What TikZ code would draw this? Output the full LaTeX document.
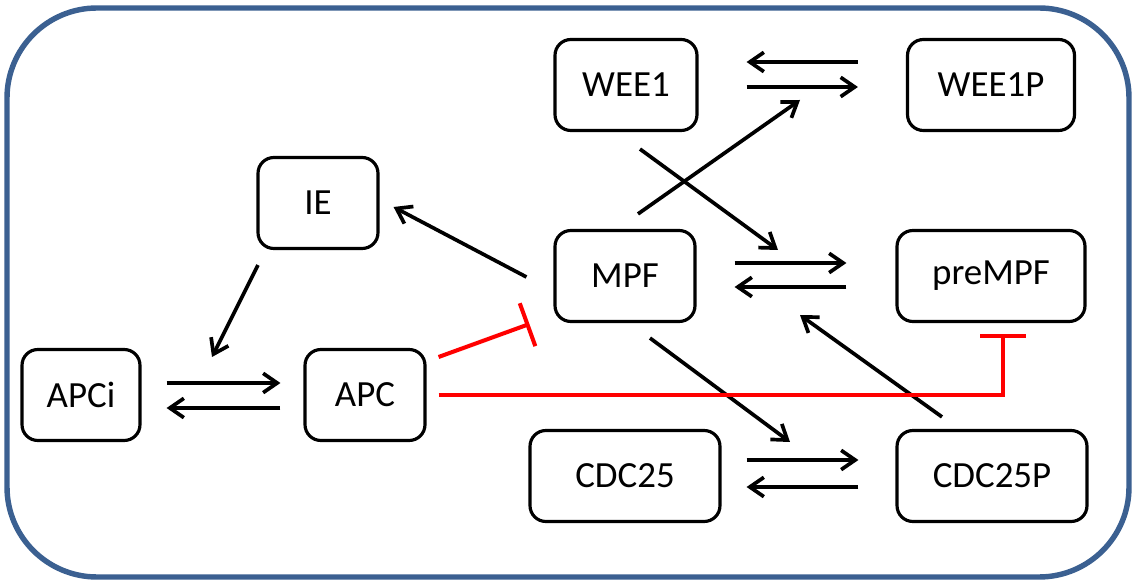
\documentclass[tikz,border=0pt]{standalone}
\usepackage{fontspec}
\setmainfont{Carlito}
\usetikzlibrary{arrows.meta,calc}
\definecolor{frameblue}{RGB}{59,96,145}
\tikzset{
  species/.style={draw, line width=1.8pt, rounded corners=9pt, minimum height=1.82cm,
    font=\fontsize{21}{25}\selectfont},
  act/.style={-{Straight Barb[length=8pt,width=11pt]}, line width=2.1pt},
  inh/.style={-{Bar[width=26pt]}, draw=red, line width=2.3pt},
}

\begin{document}
\begin{tikzpicture}[x=0.02cm, y=-0.02cm]
                    \useasboundingbox (0,0) rectangle (1132,580);
                    % Frame
                    \draw [frameblue, line width=3.1pt, rounded corners=1.8cm] (7,8) rectangle (1129,577);
                    % Species
                    \node [species, minimum width=2.84cm] (wee1) at (626,85) {WEE1};
                    \node [species, minimum width=3.34cm] (wee1p) at (991,85) {WEE1P};
                    \node [species, minimum width=2.4cm] (ie) at (318,203) {IE};
                    \node [species, minimum width=2.8cm] (mpf) at (625,276) {MPF};
                    \node [species, minimum width=3.76cm] (prempf) at (991,276) {preMPF};
                    \node [species, minimum width=2.36cm] (apci) at (81,395) {APCi};
                    \node [species, minimum width=2.4cm] (apc) at (365,395) {APC};
                    \node [species, minimum width=3.8cm] (cdc25) at (625,476) {CDC25};
                    \node [species, minimum width=3.8cm] (cdc25p) at (992,476) {CDC25P};
                    % Reactions
                    \draw [act] ($(wee1p.west)+(-48,-23)$) -- ($(wee1.east)+(48,-23)$);
                    \draw [act] ($(wee1.east)+(48,2)$) -- ($(wee1p.west)+(-48,2)$);
                    \draw [act] ($(mpf.east)+(38,-13)$) -- ($(prempf.west)+(-49,-13)$);
                    \draw [act] ($(prempf.west)+(-49,11)$) -- ($(mpf.east)+(38,11)$);
                    \draw [act] ($(apci.east)+(25,-12)$) -- ($(apc.west)+(-23,-12)$);
                    \draw [act] ($(apc.west)+(-23,13)$) -- ($(apci.east)+(25,13)$);
                    \draw [act] ($(cdc25.east)+(25,-16)$) -- ($(cdc25p.west)+(-37,-16)$);
                    \draw [act] ($(cdc25p.west)+(-37,11)$) -- ($(cdc25.east)+(25,11)$);
                    % Catalysis
                    \coordinate (weeR) at (800,100);
                    \coordinate (mpfR) at (778,250);
                    \coordinate (apcR) at (212,357);
                    \coordinate (cdcR) at (790,442);
                    \coordinate (preR) at (800,315);
                    \draw [act] ($(mpf.north)+(13,-15)$) -- (weeR);
                    \draw [act] ($(wee1.south)+(14,17)$) -- (mpfR);
                    \draw [act] ($(mpf.west)+(-27,1)$) -- ($(ie.east)+(14,4)$);
                    \draw [act] ($(ie.south)+(-60,15)$) -- (apcR);
                    \draw [act] ($(mpf.south)+(25,15)$) -- (cdcR);
                    \draw [act] ($(cdc25p.north)+(-50,-12)$) -- (preR);
                    % Inhibition
                    \draw [inh] ($(apc.east)+(12,-38)$) -- ($(mpf.west)+(-24,48)$);
                    \draw [inh] ($(apc.east)+(12,0)$) -| ($(prempf.south)+(12,11)$);
                \end{tikzpicture}
\end{document}
